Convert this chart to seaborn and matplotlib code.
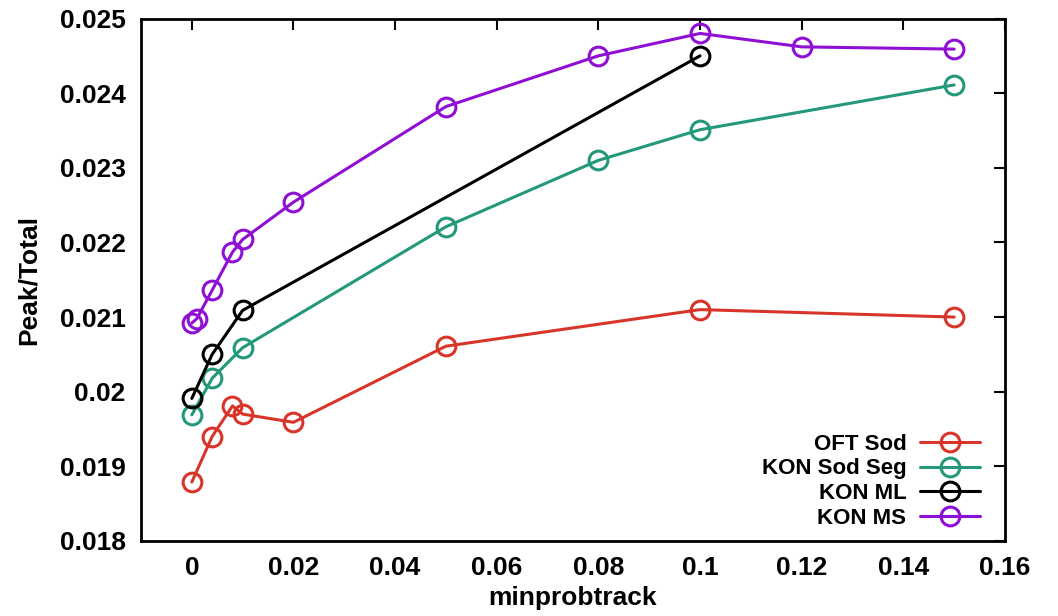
import matplotlib
matplotlib.use("Agg")
import matplotlib.pyplot as plt
import seaborn as sns
import pandas as pd

# Peak/Total ratio versus minprobtrack for each configuration
oft_sod_x = [0.0, 0.004, 0.008, 0.01, 0.02, 0.05, 0.1, 0.15]
oft_sod_y = [0.01879, 0.01940, 0.01981, 0.01970, 0.01959, 0.02061, 0.02110, 0.02100]

kon_sod_seg_x = [0.0, 0.004, 0.01, 0.05, 0.08, 0.1, 0.15]
kon_sod_seg_y = [0.01969, 0.02018, 0.02059, 0.02221, 0.02310, 0.02351, 0.02411]

kon_ml_x = [0.0, 0.004, 0.01, 0.1]
kon_ml_y = [0.01991, 0.02050, 0.02109, 0.02450]

kon_ms_x = [0.0, 0.001, 0.004, 0.008, 0.01, 0.02, 0.05, 0.08, 0.1, 0.12, 0.15]
kon_ms_y = [0.02092, 0.02098, 0.02136, 0.02187, 0.02204, 0.02254, 0.02382,
            0.02450, 0.02480, 0.02462, 0.02459]

series_names = ["OFT Sod", "KON Sod Seg", "KON ML", "KON MS"]
series_colors = ["#d8352a", "#24987a", "#000000", "#8f0fd4"]

x_ticks = [0, 0.02, 0.04, 0.06, 0.08, 0.1, 0.12, 0.14, 0.16]
x_tick_labels = ["0", "0.02", "0.04", "0.06", "0.08", "0.1", "0.12", "0.14", "0.16"]
y_ticks = [0.018, 0.019, 0.02, 0.021, 0.022, 0.023, 0.024, 0.025]
y_tick_labels = ["0.018", "0.019", "0.02", "0.021", "0.022", "0.023", "0.024", "0.025"]

frames = []
for name, xs, ys in zip(series_names,
                        [oft_sod_x, kon_sod_seg_x, kon_ml_x, kon_ms_x],
                        [oft_sod_y, kon_sod_seg_y, kon_ml_y, kon_ms_y]):
    frames.append(pd.DataFrame({"minprobtrack": xs, "Peak/Total": ys, "series": name}))
df = pd.concat(frames, ignore_index=True)

sns.set_theme(style="white")
plt.rcParams["font.family"] = ["Liberation Sans", "DejaVu Sans"]
plt.rcParams["font.weight"] = "bold"
plt.rcParams["text.color"] = "black"
plt.rcParams["axes.labelcolor"] = "black"
plt.rcParams["xtick.color"] = "black"
plt.rcParams["ytick.color"] = "black"

fig = plt.figure(figsize=(10.58, 6.16), dpi=100)
ax = fig.add_axes([141 / 1058, 1 - 541 / 616, (1005 - 141) / 1058, (541 - 18.5) / 616])

palette = dict(zip(series_names, series_colors))
for name in series_names:
    sub = df[df["series"] == name]
    sns.lineplot(data=sub, x="minprobtrack", y="Peak/Total", ax=ax,
                 color=palette[name], label=name, linewidth=2.2,
                 marker="o", markersize=13.5, markerfacecolor="none",
                 markeredgecolor=palette[name], markeredgewidth=2.2,
                 sort=False, estimator=None)

ax.set_xlim(-0.01, 0.16)
ax.set_ylim(0.018, 0.025)
ax.set_xticks(x_ticks)
ax.set_xticklabels(x_tick_labels)
ax.set_yticks(y_ticks)
ax.set_yticklabels(y_tick_labels)

ax.tick_params(axis="both", which="major", direction="in", length=8, width=1.5,
               top=True, right=True, labelsize=19, colors="black")
ax.tick_params(axis="y", pad=11)
ax.tick_params(axis="x", pad=11)
for lbl in ax.get_xticklabels() + ax.get_yticklabels():
    lbl.set_fontweight("bold")
    lbl.set_color("black")

for spine in ax.spines.values():
    spine.set_visible(True)
    spine.set_color("black")
    spine.set_linewidth(2)

ax.set_xlabel("minprobtrack", fontsize=19, fontweight="bold", color="black", labelpad=4)
ax.set_ylabel("Peak/Total", fontsize=19, fontweight="bold", color="black", labelpad=14)

leg = ax.legend(loc="lower right", bbox_to_anchor=(0.981, 0.006), frameon=False,
                markerfirst=False, handlelength=2.7, handletextpad=0.6,
                labelspacing=0.17, borderaxespad=0.0,
                prop={"weight": "bold", "size": 16})
for t in leg.get_texts():
    t.set_color("black")

fig.savefig("out.png", dpi=100)
